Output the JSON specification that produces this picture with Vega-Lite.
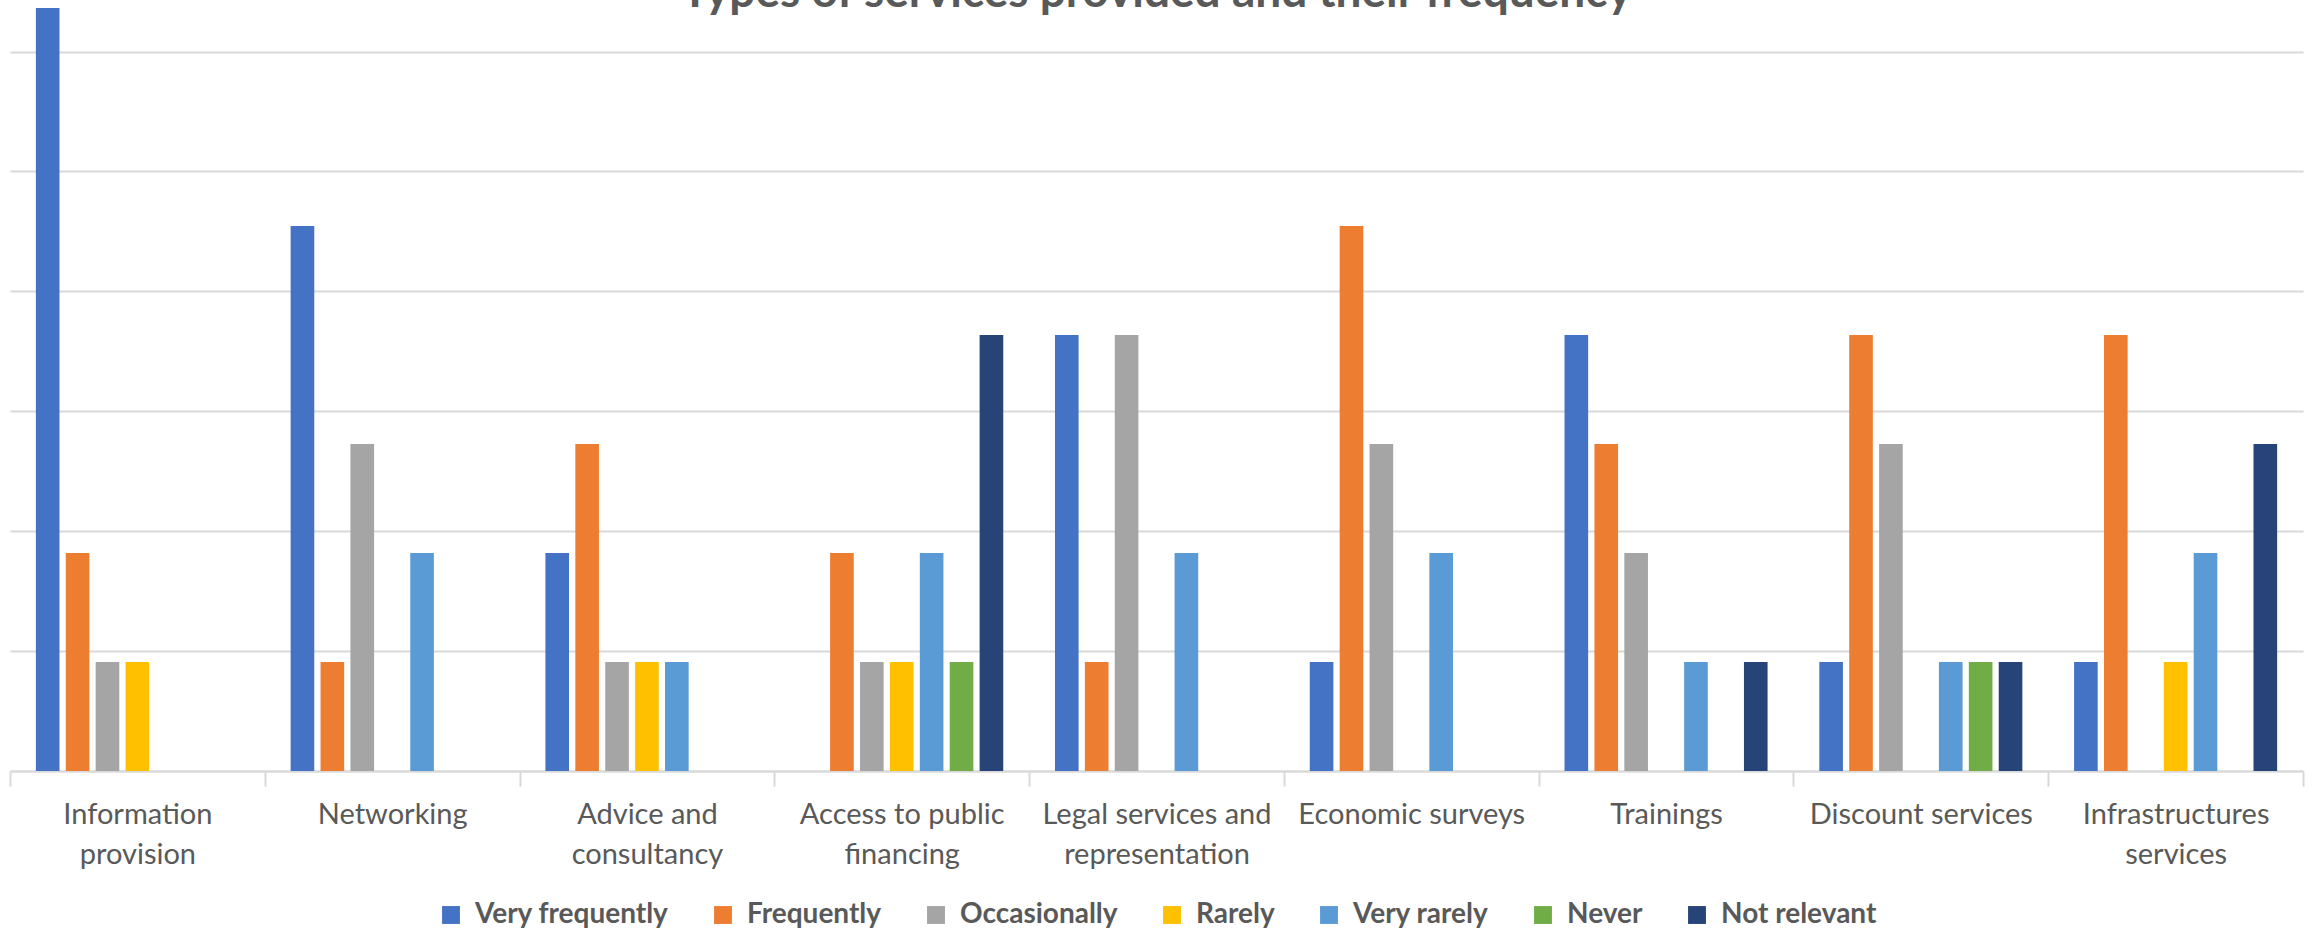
{
  "$schema": "https://vega.github.io/schema/vega-lite/v6.json",
  "autosize": {"type": "none"},
  "width": 2293,
  "height": 771,
  "padding": {"left": 10, "top": 0, "right": 10, "bottom": 161},
  "title": {
    "text": "Types of services provided and their frequency",
    "fontSize": 46,
    "fontWeight": "bold",
    "color": "#595959",
    "font": "Lato",
    "anchor": "middle",
    "baseline": "alphabetic",
    "offset": 0,
    "dy": 53
  },
  "data": {
    "values": [
      {"service": "Information provision", "freq": "Very frequently", "pct": 63.64},
      {"service": "Information provision", "freq": "Frequently", "pct": 18.18},
      {"service": "Information provision", "freq": "Occasionally", "pct": 9.09},
      {"service": "Information provision", "freq": "Rarely", "pct": 9.09},
      {"service": "Networking", "freq": "Very frequently", "pct": 45.45},
      {"service": "Networking", "freq": "Frequently", "pct": 9.09},
      {"service": "Networking", "freq": "Occasionally", "pct": 27.27},
      {"service": "Networking", "freq": "Very rarely", "pct": 18.18},
      {"service": "Advice and consultancy", "freq": "Very frequently", "pct": 18.18},
      {"service": "Advice and consultancy", "freq": "Frequently", "pct": 27.27},
      {"service": "Advice and consultancy", "freq": "Occasionally", "pct": 9.09},
      {"service": "Advice and consultancy", "freq": "Rarely", "pct": 9.09},
      {"service": "Advice and consultancy", "freq": "Very rarely", "pct": 9.09},
      {"service": "Access to public financing", "freq": "Frequently", "pct": 18.18},
      {"service": "Access to public financing", "freq": "Occasionally", "pct": 9.09},
      {"service": "Access to public financing", "freq": "Rarely", "pct": 9.09},
      {"service": "Access to public financing", "freq": "Very rarely", "pct": 18.18},
      {"service": "Access to public financing", "freq": "Never", "pct": 9.09},
      {"service": "Access to public financing", "freq": "Not relevant", "pct": 36.36},
      {"service": "Legal services and representation", "freq": "Very frequently", "pct": 36.36},
      {"service": "Legal services and representation", "freq": "Frequently", "pct": 9.09},
      {"service": "Legal services and representation", "freq": "Occasionally", "pct": 36.36},
      {"service": "Legal services and representation", "freq": "Very rarely", "pct": 18.18},
      {"service": "Economic surveys", "freq": "Very frequently", "pct": 9.09},
      {"service": "Economic surveys", "freq": "Frequently", "pct": 45.45},
      {"service": "Economic surveys", "freq": "Occasionally", "pct": 27.27},
      {"service": "Economic surveys", "freq": "Very rarely", "pct": 18.18},
      {"service": "Trainings", "freq": "Very frequently", "pct": 36.36},
      {"service": "Trainings", "freq": "Frequently", "pct": 27.27},
      {"service": "Trainings", "freq": "Occasionally", "pct": 18.18},
      {"service": "Trainings", "freq": "Very rarely", "pct": 9.09},
      {"service": "Trainings", "freq": "Not relevant", "pct": 9.09},
      {"service": "Discount services", "freq": "Very frequently", "pct": 9.09},
      {"service": "Discount services", "freq": "Frequently", "pct": 36.36},
      {"service": "Discount services", "freq": "Occasionally", "pct": 27.27},
      {"service": "Discount services", "freq": "Very rarely", "pct": 9.09},
      {"service": "Discount services", "freq": "Never", "pct": 9.09},
      {"service": "Discount services", "freq": "Not relevant", "pct": 9.09},
      {"service": "Infrastructures services", "freq": "Very frequently", "pct": 9.09},
      {"service": "Infrastructures services", "freq": "Frequently", "pct": 36.36},
      {"service": "Infrastructures services", "freq": "Rarely", "pct": 9.09},
      {"service": "Infrastructures services", "freq": "Very rarely", "pct": 18.18},
      {"service": "Infrastructures services", "freq": "Not relevant", "pct": 27.27}
    ]
  },
  "mark": {"type": "bar"},
  "encoding": {
    "x": {
      "field": "service",
      "type": "nominal",
      "sort": ["Information provision", "Networking", "Advice and consultancy", "Access to public financing", "Legal services and representation", "Economic surveys", "Trainings", "Discount services", "Infrastructures services"],
      "scale": {"paddingInner": 0, "paddingOuter": 0},
      "axis": {
        "title": null,
        "labelAngle": 0,
        "labelFont": "Lato",
        "labelFontSize": 29,
        "labelColor": "#595959",
        "labelLineHeight": 40,
        "labelBaseline": "top",
        "labelPadding": 14,
        "labelLimit": 400,
        "tickBand": "extent",
        "tickSize": 15,
        "tickColor": "#d9d9d9",
        "tickWidth": 2,
        "domainColor": "#d9d9d9",
        "domainWidth": 2,
        "labelExpr": "datum.value == 'Information provision' ? ['Information', 'provision'] : datum.value == 'Advice and consultancy' ? ['Advice and', 'consultancy'] : datum.value == 'Access to public financing' ? ['Access to public', 'financing'] : datum.value == 'Legal services and representation' ? ['Legal services and', 'representation'] : datum.value == 'Infrastructures services' ? ['Infrastructures', 'services'] : datum.value"
      }
    },
    "xOffset": {
      "field": "freq",
      "type": "nominal",
      "scale": {
        "domain": ["Very frequently", "Frequently", "Occasionally", "Rarely", "Very rarely", "Never", "Not relevant"],
        "paddingInner": 0.21,
        "paddingOuter": 0.865
      }
    },
    "y": {
      "field": "pct",
      "type": "quantitative",
      "scale": {"domain": [0, 64.3], "nice": false},
      "axis": {
        "title": null,
        "labels": false,
        "ticks": false,
        "domain": false,
        "grid": true,
        "values": [0, 10, 20, 30, 40, 50, 60],
        "gridColor": "#d9d9d9",
        "gridWidth": 2
      }
    },
    "color": {
      "field": "freq",
      "type": "nominal",
      "scale": {
        "domain": ["Very frequently", "Frequently", "Occasionally", "Rarely", "Very rarely", "Never", "Not relevant"],
        "range": ["#4472C4", "#ED7D31", "#A5A5A5", "#FFC000", "#5B9BD5", "#70AD47", "#264478"]
      },
      "legend": {
        "title": null,
        "orient": "bottom",
        "direction": "horizontal",
        "offset": 32,
        "symbolType": "square",
        "symbolSize": 320,
        "symbolStrokeWidth": 0,
        "labelFont": "Lato",
        "labelFontSize": 28,
        "labelFontWeight": "bold",
        "labelColor": "#595959",
        "labelOffset": 10,
        "columnPadding": 40,
        "labelLimit": 400
      }
    }
  },
  "config": {
    "view": {"stroke": null},
    "legend": {"layout": {"bottom": {"anchor": "middle"}}}
  }
}
